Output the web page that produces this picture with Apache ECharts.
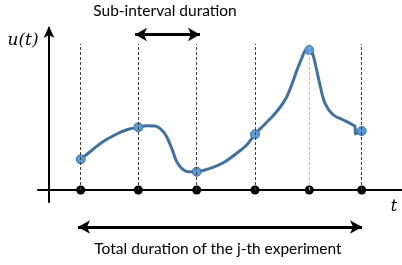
<!DOCTYPE html>
<html>
<head>
<meta charset="utf-8">
<script src="https://cdn.jsdelivr.net/npm/echarts@6/dist/echarts.min.js"></script>
<style>
  html, body { margin: 0; padding: 0; background: #fff; }
  #chart { width: 402px; height: 265px; }
</style>
</head>
<body>
<div id="chart"></div>
<script>
// time axis: 1 unit = 10px, u axis: 1 unit = 10px
const knotTimes = [3.17, 8.93, 14.77, 20.60, 26.03, 31.27];
const knotValues = [3.07, 6.27, 1.83, 5.57, 14.0, 5.90];

// traced points of the continuous signal u(t)
const curveTimes = [3.17, 4.10, 5.40, 6.77, 7.93, 8.93, 9.77, 10.60, 11.27, 11.77, 12.27, 12.77, 13.27, 13.93,
    14.77, 16.10, 17.43, 18.77, 19.77, 20.60, 21.60, 22.43, 23.20, 23.77, 24.30, 24.80, 25.27, 25.60, 26.03,
    26.40, 26.70, 27.10, 27.60, 28.43, 29.43, 30.27, 30.60, 30.65, 30.85, 31.27];
const curveValues = [3.07, 3.83, 4.83, 5.60, 6.07, 6.27, 6.43, 6.40, 6.00, 5.33, 4.17, 2.83, 2.17, 1.83,
    1.83, 2.17, 2.73, 3.67, 4.50, 5.57, 6.60, 7.45, 8.40, 9.30, 10.60, 12.00, 13.17, 13.90, 14.10,
    13.50, 12.30, 10.50, 8.67, 7.50, 7.00, 6.57, 6.35, 5.60, 5.70, 5.90];

const guideTop = 14.6;          // top of the dashed guides
const peakIndex = 4;            // guide drawn in light blue
const subInterval = [8.6, 15.1, 15.55];   // start, end, level
const totalSpan = [2.9, 31.3];

const chart = echarts.init(document.getElementById('chart'), null, { renderer: 'canvas' });

const guides = knotTimes.map((t, i) => [
    { coord: [t, 0], lineStyle: { color: i === peakIndex ? '#9dc3e6' : '#404040' } },
    { coord: [t, guideTop] }
]);

chart.setOption({
    animation: false,
    backgroundColor: '#fff',
    grid: [
        { left: 38, right: 0, top: 28, bottom: 63 },
        { left: 38, right: 0, top: 215, height: 24 }
    ],
    xAxis: [
        {
            type: 'value', min: -1.1, max: 35.3,
            axisLine: { onZero: true, lineStyle: { color: '#000', width: 2 } },
            axisTick: { show: false }, axisLabel: { show: false }, splitLine: { show: false }
        },
        { type: 'value', gridIndex: 1, min: -1.1, max: 35.3, show: false }
    ],
    yAxis: [
        {
            type: 'value', min: -1.2, max: 16.2,
            axisLine: {
                show: true, onZero: true,
                symbol: ['none', 'arrow'], symbolSize: [8, 12], symbolOffset: [0, 2],
                lineStyle: { color: '#000', width: 2 }
            },
            axisTick: { show: false }, axisLabel: { show: false }, splitLine: { show: false }
        },
        { type: 'value', gridIndex: 1, min: 0, max: 1, show: false }
    ],
    series: [
        {
            // sample instants on the time axis + dashed guides
            type: 'scatter',
            z: 2,
            symbol: 'circle',
            symbolSize: 9,
            itemStyle: { color: '#000', opacity: 1 },
            data: knotTimes.map(t => [t, 0]),
            markLine: {
                silent: true,
                symbol: 'none',
                label: { show: false },
                lineStyle: { type: [3, 2], width: 1 },
                data: guides
            }
        },
        {
            type: 'line',
            z: 3,
            smooth: 0.35,
            showSymbol: false,
            lineStyle: { color: '#41719c', width: 3 },
            data: curveTimes.map((t, i) => [t, curveValues[i]]),
            markLine: {
                silent: true,
                symbol: ['arrow', 'arrow'],
                symbolSize: [10, 12],
                label: { show: false },
                lineStyle: { color: '#000', width: 3, type: 'solid' },
                data: [[{ coord: [subInterval[0], subInterval[2]] }, { coord: [subInterval[1], subInterval[2]] }]]
            }
        },
        {
            type: 'scatter',
            z: 4,
            symbol: 'circle',
            symbolSize: 9,
            itemStyle: { color: '#5b9bd5', borderColor: '#41719c', borderWidth: 1, opacity: 1 },
            data: knotTimes.map((t, i) => [t, knotValues[i]])
        },
        {
            // total experiment duration arrow
            type: 'line',
            xAxisIndex: 1, yAxisIndex: 1,
            showSymbol: false,
            lineStyle: { opacity: 0 },
            data: [],
            markLine: {
                silent: true,
                symbol: ['arrow', 'arrow'],
                symbolSize: [10, 12],
                label: { show: false },
                lineStyle: { color: '#000', width: 3, type: 'solid' },
                data: [[{ coord: [totalSpan[0], 0.5] }, { coord: [totalSpan[1], 0.5] }]]
            }
        }
    ],
    graphic: [
        {
            type: 'text', x: 165, y: 11,
            style: { text: 'Sub-interval duration', font: '15.5px Lato', fill: '#000', align: 'center', verticalAlign: 'middle' }
        },
        {
            type: 'text', x: 218, y: 249,
            style: { text: 'Total duration of the j-th experiment', font: '15.5px Lato', fill: '#000', align: 'center', verticalAlign: 'middle' }
        },
        {
            type: 'text', x: 23, y: 41,
            style: { text: 'u(t)', font: 'italic 17px "DejaVu Serif"', fill: '#000', align: 'center', verticalAlign: 'middle' }
        },
        {
            type: 'text', x: 394, y: 207,
            style: { text: 't', font: 'italic 16px "DejaVu Serif"', fill: '#000', align: 'center', verticalAlign: 'middle' }
        }
    ]
});
</script>
</body>
</html>
